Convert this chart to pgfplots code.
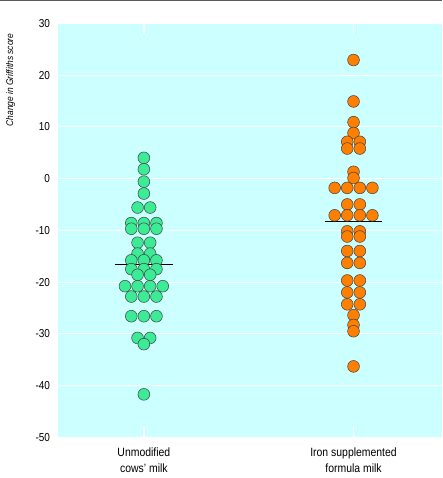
\documentclass[border=0pt]{standalone}
\usepackage{pgfplots}
\pgfplotsset{compat=1.18}
\usepackage{fontspec}
\setmainfont{Liberation Sans}[FakeStretch=0.87]
\definecolor{bgc}{HTML}{CCFFFF}
\definecolor{mintg}{HTML}{3CEB96}
\definecolor{orng}{HTML}{FF8000}
\definecolor{topline}{HTML}{5A5A5A}
\begin{document}
\begin{tikzpicture}
\begin{axis}[
  at={(0pt,0pt)}, anchor=south west,
  scale only axis, width=384.3pt, height=414pt,
  xmin=0.589, xmax=2.422, ymin=-50, ymax=30,
  axis background/.style={fill=bgc},
  axis line style={draw=none},
  ytick={-50,-40,...,30},
  ymajorgrids, grid style={white, line width=1pt},
  ytick style={draw=none},
  xtick={1,2},
  xticklabels={{Unmodified\\cows' milk},{Iron supplemented\\formula milk}},
  xtick style={draw=white, line width=1.3pt},
  major tick length=10.5pt, tick align=inside,
  xticklabel style={align=center, anchor=north, inner sep=0pt, yshift=-10.8pt, font=\fontsize{12}{15.7}\selectfont},
  yticklabel style={anchor=east, inner sep=0pt, xshift=-7.5pt, font=\fontsize{11.5}{13}\selectfont},
  /pgf/number format/assume math mode=true,
  ylabel={Change in Griffiths score},
  ylabel style={at={(axis description cs:-0.1228,0.863)}, anchor=center, rotate=0, font=\fontsize{9.7}{11}\selectfont\itshape},
  clip=false,
]
\addplot[only marks, mark=*, mark size=5.9pt, mark options={fill=mintg, draw=black!75, line width=0.5pt}] coordinates {
(1,4) (1,1.8) (1,-0.6) (1,-2.9)
(0.97,-5.6) (1.03,-5.6)
(0.94,-8.6) (1,-8.6) (1.06,-8.6)
(0.94,-9.7) (1,-9.7) (1.06,-9.7)
(0.97,-12.4) (1.03,-12.4)
(0.97,-14.5) (1.03,-14.5)
(0.94,-15.8) (1,-15.8) (1.06,-15.8)
(0.94,-17.5) (1,-17.5) (1.06,-17.5)
(0.97,-18.6) (1.03,-18.6)
(0.91,-20.8) (0.97,-20.8) (1.03,-20.8) (1.09,-20.8)
(0.94,-22.8) (1,-22.8) (1.06,-22.8)
(0.94,-26.6) (1,-26.6) (1.06,-26.6)
(0.97,-30.8) (1.03,-30.8) (1,-32)
(1,-41.7)
};
\addplot[black, line width=0.8pt] coordinates {(0.862,-16.5) (1.138,-16.5)};
\addplot[only marks, mark=*, mark size=5.9pt, mark options={fill=orng, draw=black!75, line width=0.5pt}] coordinates {
(2,22.9) (2,14.9) (2,10.9) (2,8.8)
(1.97,7.1) (2.03,7.1) (1.97,5.8) (2.03,5.8)
(2,1.3) (2,0.1)
(1.91,-1.8) (1.97,-1.8) (2.03,-1.8) (2.09,-1.8)
(1.97,-5.0) (2.03,-5.0)
(1.91,-7.1) (1.97,-7.1) (2.03,-7.1) (2.09,-7.1)
(1.97,-10.2) (2.03,-10.2) (1.97,-11.2) (2.03,-11.2)
(1.97,-14) (2.03,-14)
(1.97,-16.3) (2.03,-16.3)
(1.97,-19.7) (2.03,-19.7)
(1.97,-22) (2.03,-22)
(1.97,-24.3) (2.03,-24.3)
(2,-26.4) (2,-28.3) (2,-29.5) (2,-36.3)
};
\addplot[black, line width=0.8pt] coordinates {(1.862,-8.2) (2.138,-8.2)};
\end{axis}
\draw[topline, line width=1.3pt] (-57.7pt,436.6pt) -- (384.3pt,436.6pt);
\pgfresetboundingbox
\path (-57.7pt,-40.7pt) rectangle (384.3pt,437.3pt);
\end{tikzpicture}
\end{document}
